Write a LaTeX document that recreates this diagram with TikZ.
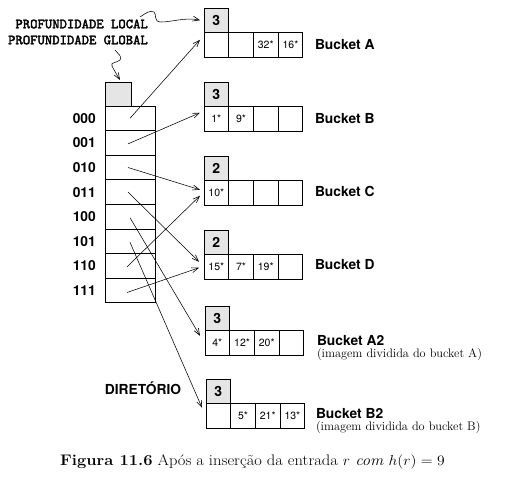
\documentclass[tikz,border=0pt]{standalone}
\usepackage{fontspec}
\setsansfont{TeX Gyre Heros}
\newfontfamily\ttbold{lmmono10-regular.otf}[FakeBold=2.5]
\usetikzlibrary{arrows.meta,calc}
\newcommand\mybucket[8]{%
  \node[hdr,anchor=north west] (#1h) at (#2,#3) {#4};
  \node[cell,anchor=north west] (#1c1) at ($(#1h.south west)$) {#5};
  \node[cell,anchor=west] (#1c2) at (#1c1.east) {#6};
  \node[cell,anchor=west] (#1c3) at (#1c2.east) {#7};
  \node[cell,anchor=west] (#1c4) at (#1c3.east) {#8};
}
\begin{document}
\begin{tikzpicture}[x=1pt,y=-1pt,
  cell/.style={draw,line width=0.8pt,minimum width=24.7pt,minimum height=24.5pt,inner sep=0pt,outer sep=0pt,font=\sffamily\fontsize{10.5}{12}\selectfont},
  hdr/.style={cell,fill=black!10,font=\sffamily\bfseries\fontsize{14}{16}\selectfont},
  lbl/.style={font=\sffamily\bfseries\fontsize{13.8}{16}\selectfont,inner sep=0pt},
  sub/.style={font=\fontsize{12.3}{14}\selectfont,inner sep=0pt},
  tt/.style={font=\ttbold\fontsize{14}{16}\selectfont,inner sep=0pt},
  arr/.style={line width=0.55pt,-{Straight Barb[length=6.5pt,width=5pt,line width=0.6pt]}},
  dcell/.style={cell,minimum width=50pt,minimum height=24.6pt}
]
\useasboundingbox (0,0) rectangle (519,479);

% buckets
\mybucket{A}{204}{8}{3}{}{}{32*}{16*}
\mybucket{B}{204}{82}{3}{1*}{9*}{}{}
\mybucket{C}{204}{156}{2}{10*}{}{}{}
\mybucket{D}{204}{230}{2}{15*}{7*}{19*}{}
\mybucket{AA}{205}{306}{3}{4*}{12*}{20*}{}
\mybucket{BB}{206}{379}{3}{}{5*}{21*}{13*}

% bucket labels
\node[lbl,anchor=west] (la) at ($(Ac4.east)+(12,0)$) {Bucket A};
\node[lbl,anchor=west] (lb) at ($(Bc4.east)+(12,0)$) {Bucket B};
\node[lbl,anchor=west] (lc) at ($(Cc4.east)+(12,-1)$) {Bucket C};
\node[lbl,anchor=west] (ld) at ($(Dc4.east)+(12,-2)$) {Bucket D};
\node[lbl,anchor=west] (la2) at ($(AAc4.east)+(13,-2)$) {Bucket A2};
\node[sub,anchor=west] (sa2) at ($(AAc4.east)+(13,12)$) {(imagem dividida do bucket A)};
\node[lbl,anchor=west] (lb2) at ($(BBc4.east)+(11,-2)$) {Bucket B2};
\node[sub,anchor=west] (sb2) at ($(BBc4.east)+(11,12)$) {(imagem dividida do bucket B)};

% directory
\node[hdr,anchor=north west,minimum width=26pt,minimum height=24pt] (dh) at (105,82) {};
\node[dcell,anchor=north west] (d0) at (105,106) {};
\foreach \i [remember=\i as \j (initially 0)] in {1,...,7}{
  \node[dcell,anchor=north west] (d\i) at (d\j.south west) {};
}
\foreach \i/\t in {0/000,1/001,2/010,3/011,4/100,5/101,6/110,7/111}{
  \node[lbl,anchor=east] (n\i) at ($(d\i.west)+(-9,0)$) {\t};
}
\node[lbl] (dir) at (143,388) {DIRETÓRIO};

% top labels
\node[tt,anchor=east] (pl) at (148,24) {PROFUNDIDADE LOCAL};
\node[tt,anchor=east] (pg) at (148,40) {PROFUNDIDADE GLOBAL};
\coordinate (s1) at (140,17);
\coordinate (s2) at (115,50);
\draw[arr] (s1) .. controls (146,13) and (150,10) .. (154,12)
  .. controls (157,14) and (153,22) .. (161,22)
  .. controls (172,22) and (186,17) .. ($(Ah.west)+(-4,0)$);
\draw[arr] (s2) .. controls (118,54) and (123,57) .. (120,60)
  .. controls (117,63) and (110,62) .. (112,66)
  .. controls (114,70) and (117,75) .. ($(dh.north)+(2,-2)$);

% pointers
\draw[arr] ($(d0.center)+(0,0)$) -- ($(Ac1.west)+(-4,-5)$);
\draw[arr] ($(d1.center)+(-2,1)$) -- ($(Bc1.west)+(-4,-6)$);
\draw[arr] ($(d2.center)+(-2,0)$) -- ($(Cc1.west)+(-4,-3)$);
\draw[arr] ($(d3.center)+(-2,0)$) -- ($(Dc1.west)+(-5,-5)$);
\draw[arr] ($(d4.center)+(0,1)$) -- ($(AAc1.west)+(-5,-7)$);
\draw[arr] ($(d5.center)+(0,1)$) -- ($(BBc1.west)+(-4,-8)$);
\draw[arr] ($(d6.center)+(-3,1)$) -- ($(Cc1.west)+(-4,3)$);
\draw[arr] ($(d7.center)+(-3,2)$) -- ($(Dc1.west)+(-5,1)$);

% caption
\node[anchor=west,inner sep=0pt,font=\fontsize{15.3}{17}\selectfont] (cap) at (60,462) {\scalebox{1.08}[1]{\textbf{Figura 11.6} Após a inserção da entrada $r$ \textit{com} $h(r) = 9$}};
\end{tikzpicture}
\end{document}
